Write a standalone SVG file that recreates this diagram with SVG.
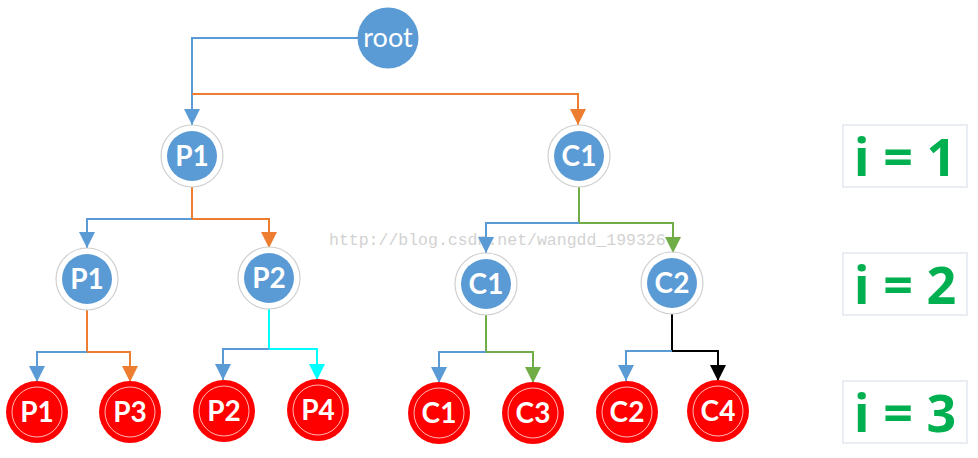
<svg xmlns="http://www.w3.org/2000/svg" width="978" height="458" viewBox="0 0 978 458">
<style>
.ring{fill:#fff;stroke:#cfcfcf;stroke-width:1.2}
.blue{fill:#5b9bd5}
.red{fill:#ff0000}
.redin{fill:none;stroke:#fff;stroke-width:0.9;opacity:0.8}
.lbl{font-family:Lato,"Open Sans","Liberation Sans",sans-serif;font-weight:bold;font-size:28px;fill:#fff;text-anchor:middle}
.c{fill:none;stroke-width:2}
.box{fill:#fff;stroke:#e3e7f1;stroke-width:1.5}
.it{font-family:"Open Sans","Liberation Sans",sans-serif;font-weight:bold;font-size:52px;fill:#00b050;text-anchor:middle}
</style>
<defs>
<marker id="aB" markerUnits="userSpaceOnUse" markerWidth="16" markerHeight="16" refX="15" refY="7.5" orient="auto" viewBox="0 0 15 15"><path d="M0,0 L15,7.5 L0,15 z" fill="#5b9bd5"/></marker>
<marker id="aO" markerUnits="userSpaceOnUse" markerWidth="16" markerHeight="16" refX="15" refY="7.5" orient="auto" viewBox="0 0 15 15"><path d="M0,0 L15,7.5 L0,15 z" fill="#ed7d31"/></marker>
<marker id="aG" markerUnits="userSpaceOnUse" markerWidth="16" markerHeight="16" refX="15" refY="7.5" orient="auto" viewBox="0 0 15 15"><path d="M0,0 L15,7.5 L0,15 z" fill="#70ad47"/></marker>
<marker id="aC" markerUnits="userSpaceOnUse" markerWidth="16" markerHeight="16" refX="15" refY="7.5" orient="auto" viewBox="0 0 15 15"><path d="M0,0 L15,7.5 L0,15 z" fill="#00ffff"/></marker>
<marker id="aK" markerUnits="userSpaceOnUse" markerWidth="16" markerHeight="16" refX="15" refY="7.5" orient="auto" viewBox="0 0 15 15"><path d="M0,0 L15,7.5 L0,15 z" fill="#000"/></marker>
</defs>
<rect width="978" height="458" fill="#fff"/>
<text x="329" y="245" font-family="'Liberation Mono',monospace" font-size="16.5" fill="#d2d2d2">http://blog.csdn.net/wangdd_199326</text>
<g id="connectors">
<path class="c" stroke="#5b9bd5" d="M358,38 H192 V125" marker-end="url(#aB)"/>
<path class="c" stroke="#ed7d31" d="M192,94 H578 V125" marker-end="url(#aO)"/>
<path class="c" stroke="#ed7d31" d="M192,187 V219 H269 V248" marker-end="url(#aO)"/>
<path class="c" stroke="#5b9bd5" d="M192,219 H87 V248" marker-end="url(#aB)"/>
<path class="c" stroke="#ed7d31" d="M87,310 V352 H130 V382" marker-end="url(#aO)"/>
<path class="c" stroke="#5b9bd5" d="M87,352 H37 V382" marker-end="url(#aB)"/>
<path class="c" stroke="#00ffff" d="M269,309 V349 H317 V380" marker-end="url(#aC)"/>
<path class="c" stroke="#5b9bd5" d="M269,349 H223 V380" marker-end="url(#aB)"/>
<path class="c" stroke="#70ad47" d="M579,187 V223 H673 V253" marker-end="url(#aG)"/>
<path class="c" stroke="#5b9bd5" d="M579,223 H486 V253" marker-end="url(#aB)"/>
<path class="c" stroke="#70ad47" d="M486,315 V352 H533 V383" marker-end="url(#aG)"/>
<path class="c" stroke="#5b9bd5" d="M486,352 H439 V383" marker-end="url(#aB)"/>
<path class="c" stroke="#000" d="M672,314 V351 H718 V381" marker-end="url(#aK)"/>
<path class="c" stroke="#5b9bd5" d="M672,351 H626 V381" marker-end="url(#aB)"/>
</g>
<g id="root"><circle class="blue" cx="388" cy="38" r="30.5"/><text x="388" y="47" font-family="Lato,'Open Sans','Liberation Sans',sans-serif" font-size="27" fill="#fff" text-anchor="middle">root</text></g>
<g id="p1a"><circle class="ring" cx="192" cy="156" r="31"/><circle class="blue" cx="192" cy="156" r="25"/><text class="lbl" x="192" y="166">P1</text></g>
<g id="c1a"><circle class="ring" cx="579" cy="156" r="31"/><circle class="blue" cx="579" cy="156" r="25"/><text class="lbl" x="579" y="166">C1</text></g>
<g id="p1b"><circle class="ring" cx="87" cy="279" r="31"/><circle class="blue" cx="87" cy="279" r="25"/><text class="lbl" x="87" y="289">P1</text></g>
<g id="p2b"><circle class="ring" cx="269" cy="278" r="31"/><circle class="blue" cx="269" cy="278" r="25"/><text class="lbl" x="269" y="288">P2</text></g>
<g id="c1b"><circle class="ring" cx="486" cy="284" r="31"/><circle class="blue" cx="486" cy="284" r="25"/><text class="lbl" x="486" y="294">C1</text></g>
<g id="c2b"><circle class="ring" cx="672" cy="283" r="31"/><circle class="blue" cx="672" cy="283" r="25"/><text class="lbl" x="672" y="293">C2</text></g>
<g id="p1c"><circle class="red" cx="37" cy="412" r="31"/><circle class="redin" cx="37" cy="412" r="25"/><text class="lbl" x="37" y="422">P1</text></g>
<g id="p3c"><circle class="red" cx="130" cy="412" r="31"/><circle class="redin" cx="130" cy="412" r="25"/><text class="lbl" x="130" y="422">P3</text></g>
<g id="p2c"><circle class="red" cx="224" cy="411" r="31"/><circle class="redin" cx="224" cy="411" r="25"/><text class="lbl" x="224" y="421">P2</text></g>
<g id="p4c"><circle class="red" cx="318" cy="410" r="31"/><circle class="redin" cx="318" cy="410" r="25"/><text class="lbl" x="318" y="420">P4</text></g>
<g id="c1c"><circle class="red" cx="439" cy="413" r="31"/><circle class="redin" cx="439" cy="413" r="25"/><text class="lbl" x="439" y="423">C1</text></g>
<g id="c3c"><circle class="red" cx="533" cy="413" r="31"/><circle class="redin" cx="533" cy="413" r="25"/><text class="lbl" x="533" y="423">C3</text></g>
<g id="c2c"><circle class="red" cx="627" cy="412" r="31"/><circle class="redin" cx="627" cy="412" r="25"/><text class="lbl" x="627" y="422">C2</text></g>
<g id="c4c"><circle class="red" cx="718" cy="411" r="31"/><circle class="redin" cx="718" cy="411" r="25"/><text class="lbl" x="718" y="421">C4</text></g>
<g id="i1"><rect class="box" x="843" y="125" width="124" height="62"/><text class="it" x="905" y="176">i = 1</text></g>
<g id="i2"><rect class="box" x="843" y="253" width="124" height="62"/><text class="it" x="905" y="304">i = 2</text></g>
<g id="i3"><rect class="box" x="843" y="381" width="124" height="62"/><text class="it" x="905" y="432">i = 3</text></g>
</svg>
